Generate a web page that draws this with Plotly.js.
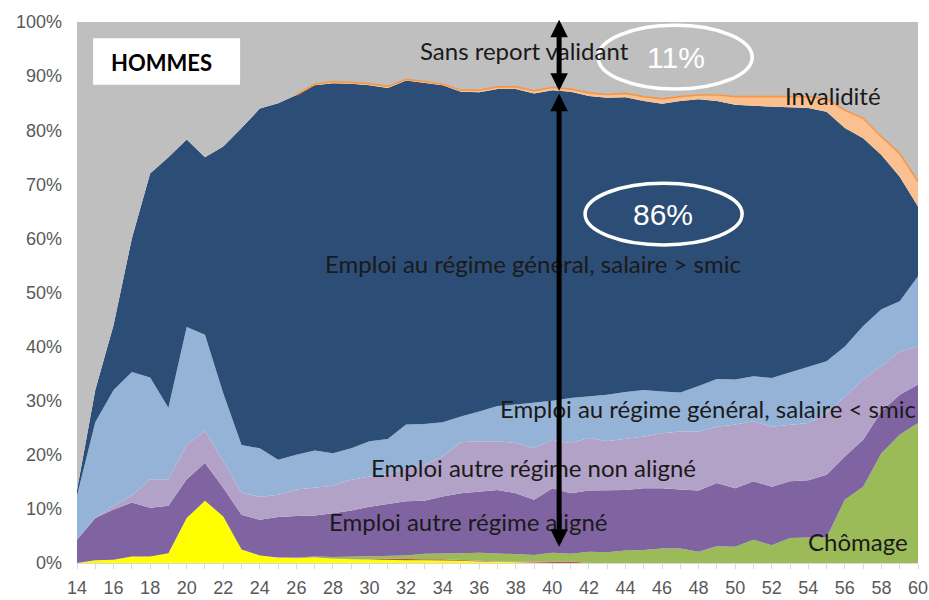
<!DOCTYPE html>
<html>
<head>
<meta charset="utf-8">
<script src="https://cdn.plot.ly/plotly-3.0.1.min.js"></script>
<style>html,body{margin:0;padding:0;background:#fff;}#chart{width:929px;height:600px;}</style>
</head>
<body>
<div id="chart"></div>
<script>
// Ages (x categories)
const ages = [14,15,16,17,18,19,20,21,22,23,24,25,26,27,28,29,30,31,32,33,34,35,36,37,38,39,40,41,42,43,44,45,46,47,48,49,50,51,52,53,54,55,56,57,58,59,60];
const xTickVals = [14,16,18,20,22,24,26,28,30,32,34,36,38,40,42,44,46,48,50,52,54,56,58,60];
const yTickVals = [0,10,20,30,40,50,60,70,80,90,100];
const yTickText = ['0%','10%','20%','30%','40%','50%','60%','70%','80%','90%','100%'];

// Series values (% of men), stacked from bottom to top
const serieJaune = [0,0.5,0.6,1.2,1.2,1.8,8.3,11.5,8.6,2.5,1.4,1.0,0.9,1.0,0.8,0.7,0.6,0.6,0.5,0.5,0.5,0.4,0.3,0.2,0.1,0,0,0,0,0,0,0,0,0,0,0,0,0,0,0,0,0,0,0,0,0,0];
const serieRouge = [0,0,0,0,0,0,0,0,0,0,0,0,0,0,0,0,0.1,0.2,0.2,0.2,0.2,0.1,0.1,0.1,0.2,0.3,0.4,0.3,0,0,0,0,0,0,0,0,0,0,0,0,0,0,0,0,0,0,0];
const chomage = [0,0,0,0,0,0,0,0,0,0,0,0,0.1,0.2,0.3,0.5,0.5,0.5,0.7,1.0,1.0,1.3,1.5,1.5,1.4,1.2,1.5,1.4,2.1,2.0,2.3,2.4,2.7,2.7,2.1,3.1,3.0,4.3,3.3,4.6,4.7,4.7,11.7,14.1,20.3,23.7,25.9];
const autreAligne = [4.3,7.8,9.3,10.0,9.0,8.8,7.2,7.0,5.3,6.4,6.6,7.5,7.7,7.6,8.1,8.5,9.2,9.6,10.0,9.8,10.6,11.1,11.3,11.7,11.2,10.2,11.9,11.2,11.3,11.4,11.2,11.4,11.1,10.9,11.3,11.7,10.8,10.8,10.8,10.5,10.6,11.6,8.0,8.7,7.7,7.4,7.1];
const autreNonAligne = [0,0.1,0.7,1.3,5.3,4.9,6.3,5.9,4.9,4.1,4.2,4.1,4.9,5.2,5.1,5.7,5.6,5.5,6.1,6.6,7.4,9.4,9.3,9.0,9.3,9.5,9.0,9.3,9.7,9.1,9.4,9.6,10.2,10.7,10.9,10.4,11.8,11.1,11.1,10.5,10.6,11.4,11.1,11.1,8.4,8.0,7.0];
const rgInfSmic = [8.2,17.6,21.4,22.8,18.8,13.2,21.8,17.8,12.6,8.8,9.0,6.5,6.4,6.8,6.0,5.8,6.5,6.5,8.1,7.6,6.3,4.8,5.5,6.5,7.1,8.4,7.2,8.3,7.7,8.6,8.7,8.6,7.7,7.2,8.4,8.8,8.3,8.3,9.0,9.6,10.3,9.6,9.2,9.9,10.5,9.3,13.0];
const rgSupSmic = [1.0,6.0,12.0,24.7,37.7,46.3,34.7,32.8,45.6,58.6,62.8,65.9,66.5,67.5,68.4,67.4,65.8,64.9,63.6,63.1,62.3,60.0,59.0,58.6,58.3,57.2,57.4,56.6,55.5,54.9,54.5,53.4,53.2,53.9,53.0,51.4,50.8,50.0,50.2,49.1,47.9,46.1,40.4,34.7,28.5,23.0,12.9];
const invalidite = [0,0,0,0,0,0,0,0,0,0,0,0,0,0.2,0.3,0.2,0.3,0.3,0.2,0.2,0.2,0.3,0.4,0.4,0.4,0.5,0.5,0.5,0.6,0.6,0.7,0.8,0.9,0.8,0.8,1.1,1.5,1.7,1.8,1.9,2.1,2.4,3.3,3.7,3.4,4.3,4.6];
const sansReport = [86.5,68.0,56.0,40.0,28.0,25.0,21.7,25.0,23.0,19.6,16.0,15.0,13.5,11.5,11.0,11.2,11.4,11.9,10.6,11.0,11.5,12.6,12.6,12.0,12.0,12.7,12.1,12.4,13.1,13.4,13.2,13.8,14.2,13.8,13.5,13.5,13.8,13.8,13.8,13.8,13.8,14.2,16.3,17.8,21.2,24.3,29.5];

const seriesDef = [
  {name:'Autre (jaune)', y:serieJaune, color:'#FFFF00'},
  {name:'Autre (rouge)', y:serieRouge, color:'#C0504D'},
  {name:'Chômage', y:chomage, color:'#9BBB59'},
  {name:'Emploi autre régime aligné', y:autreAligne, color:'#8064A2'},
  {name:'Emploi autre régime non aligné', y:autreNonAligne, color:'#B3A2C7'},
  {name:'Emploi au régime général, salaire < smic', y:rgInfSmic, color:'#95B3D7'},
  {name:'Emploi au régime général, salaire > smic', y:rgSupSmic, color:'#2C4D75'},
  {name:'Invalidité', y:invalidite, color:'#FAC090'},
  {name:'Sans report validant', y:sansReport, color:'#BFBFBF'}
];

const traces = seriesDef.map(s => ({
  type:'scatter', mode:'lines', x:ages, y:s.y, name:s.name,
  stackgroup:'one', fillcolor:s.color,
  line:{width:0, color:s.color, shape:'linear'},
  hoverinfo:'skip'
}));

// Outline along the top edge of the "Invalidité" band, only where that band exists
const invalTopEdge = ages.map((a, i) => {
  const present = invalidite[i] > 0 || (i + 1 < ages.length && invalidite[i + 1] > 0);
  if (!present) return null;
  let s = 0;
  for (let k = 0; k < 8; k++) s += seriesDef[k].y[i];
  return s;
});
traces.push({type:'scatter', mode:'lines', x:ages, y:invalTopEdge, name:'Invalidité (bord)',
  line:{width:1.6, color:'#F79646'}, connectgaps:false, hoverinfo:'skip'});

const txtFont = {family:'Lato, "Open Sans", sans-serif', size:24, color:'#1a1a1a'};
const arrowX = 40.37;
const tickFont = {family:'"Liberation Sans", Arial, sans-serif', size:18, color:'#595959'};

const layout = {
  width:929, height:600,
  margin:{l:77, r:11, t:22, b:37},
  paper_bgcolor:'#ffffff', plot_bgcolor:'#ffffff',
  showlegend:false, hovermode:false,
  xaxis:{range:[14,60], tickmode:'array', tickvals:xTickVals, ticks:'outside', ticklen:5, tickcolor:'#D9D9D9',
         showline:true, linecolor:'#D9D9D9', linewidth:1, showgrid:false, zeroline:false,
         tickfont:tickFont,
         minor:{dtick:1, tick0:14, ticks:'outside', ticklen:5, tickcolor:'#D9D9D9', showgrid:false},
         ticklabelstandoff:3, fixedrange:true},
  yaxis:{range:[0,100], tickmode:'array', tickvals:yTickVals, ticktext:yTickText,
         showgrid:false, zeroline:false, showline:false, ticks:'',
         tickfont:tickFont, ticklabelstandoff:14, fixedrange:true},
  shapes:[
    {type:'rect', xref:'x', yref:'y', x0:14.88, x1:22.92, y0:88.4, y1:97.0, fillcolor:'#ffffff', line:{width:0}},
    {type:'circle', xref:'x', yref:'y', x0:42.5, x1:50.93, y0:87.6, y1:99.4, line:{color:'#ffffff', width:3.5}},
    {type:'circle', xref:'x', yref:'y', x0:41.79, x1:50.38, y0:58.8, y1:70.2, line:{color:'#ffffff', width:3.5}}
  ],
  annotations:[
    {xref:'x', yref:'y', x:18.6, y:92.6, text:'<b>HOMMES</b>', showarrow:false, font:{family:'Lato, sans-serif', size:22, color:'#000000'}},
    {xref:'x', yref:'y', x:38.5, y:94.8, text:'Sans report validant', showarrow:false, font:txtFont},
    {xref:'x', yref:'y', x:55.36, y:86.5, text:'Invalidité', showarrow:false, font:txtFont},
    {xref:'x', yref:'y', x:38.95, y:55.3, text:'Emploi au régime général, salaire > smic', showarrow:false, font:txtFont},
    {xref:'x', yref:'y', x:48.52, y:28.65, text:'Emploi au régime général, salaire < smic', showarrow:false, font:txtFont},
    {xref:'x', yref:'y', x:38.95, y:17.7, text:'Emploi autre régime non aligné', showarrow:false, font:txtFont},
    {xref:'x', yref:'y', x:35.39, y:7.6, text:'Emploi autre régime aligné', showarrow:false, font:txtFont},
    {xref:'x', yref:'y', x:56.72, y:3.9, text:'Chômage', showarrow:false, font:txtFont},
    {xref:'x', yref:'y', x:46.77, y:93.5, text:'11%', showarrow:false, font:{family:'"Liberation Sans", Arial, sans-serif', size:30, color:'#ffffff'}},
    {xref:'x', yref:'y', x:46.06, y:64.5, text:'86%', showarrow:false, font:{family:'"Liberation Sans", Arial, sans-serif', size:30, color:'#ffffff'}},
    {xref:'x', yref:'y', axref:'x', ayref:'y', x:arrowX, y:100.4, ax:arrowX, ay:87.0, text:'', showarrow:true,
     arrowhead:2, startarrowhead:2, arrowside:'end+start', arrowsize:0.7, startarrowsize:0.7, arrowwidth:5, arrowcolor:'#000000', standoff:0, startstandoff:0},
    {xref:'x', yref:'y', axref:'x', ayref:'y', x:arrowX, y:3.0, ax:arrowX, ay:87.0, text:'', showarrow:true,
     arrowhead:2, startarrowhead:2, arrowside:'end+start', arrowsize:0.7, startarrowsize:0.7, arrowwidth:5, arrowcolor:'#000000', standoff:0, startstandoff:0}
  ]
};

Plotly.newPlot('chart', traces, layout, {staticPlot:true, displayModeBar:false});
</script>
</body>
</html>
